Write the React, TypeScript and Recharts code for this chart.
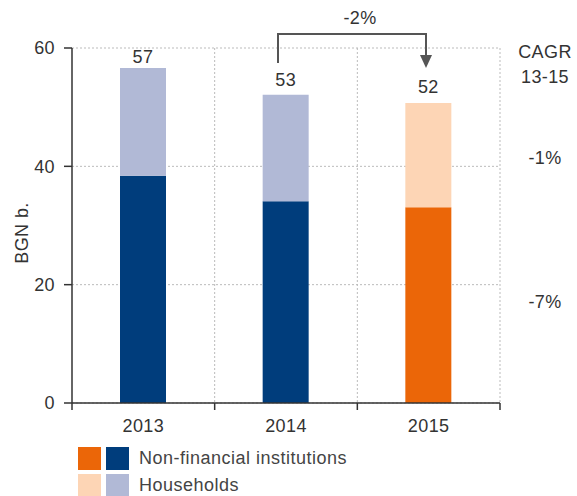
import { BarChart, Bar, XAxis, YAxis, CartesianGrid, LabelList, Legend, Cell, Customized } from "recharts"

const years = ["2013", "2014", "2015"]
const nonFinancial = [38.4, 34.1, 33.1]
const households = [18.2, 18.0, 17.6]
const totals = [57, 53, 52]
const yTicks = [0, 20, 40, 60]
const cagrTitle = ["CAGR", "13-15"]
const cagrHouseholds = "-1%"
const cagrNonFinancial = "-7%"
const growthLabel = "-2%"

const NAVY = "#003d7c"
const LAVENDER = "#b1b9d6"
const ORANGE = "#eb6608"
const PEACH = "#fdd5b5"
const TEXT = "#333"
const FONT = "'Liberation Sans', Arial, sans-serif"
const FS = 18
const LS = 0.4

const W = 577
const H = 496
const PLOT_LEFT = 72
const PLOT_RIGHT = 500
const PLOT_TOP = 48
const PLOT_BOTTOM = 403
const BAND = (PLOT_RIGHT - PLOT_LEFT) / years.length

const data = years.map((year, i) => ({
  year,
  nonFinancial: nonFinancial[i],
  households: households[i],
  total: totals[i],
}))

const labelLift = [5, 9, 10]

function TotalLabel(props: any) {
  const { x, y, width, index } = props
  return (
    <text x={x + width / 2} y={y - labelLift[index]} textAnchor="middle" fontSize={FS} letterSpacing={LS} fill={TEXT} fontFamily={FONT}>
      {totals[index]}
    </text>
  )
}

function YearTick(props: any) {
  const { x, payload, index } = props
  return (
    <g>
      <line x1={x - BAND / 2} y1={PLOT_BOTTOM} x2={x - BAND / 2} y2={PLOT_BOTTOM + 7} stroke="#333" strokeWidth={1.5} />
      {index === years.length - 1 && (
        <line x1={x + BAND / 2} y1={PLOT_BOTTOM} x2={x + BAND / 2} y2={PLOT_BOTTOM + 7} stroke="#333" strokeWidth={1.5} />
      )}
      <text x={x} y={432} textAnchor="middle" fontSize={FS} letterSpacing={LS} fill={TEXT} fontFamily={FONT}>
        {payload.value}
      </text>
    </g>
  )
}

function Annotations() {
  return (
    <g fontFamily={FONT} fill={TEXT} fontSize={FS} letterSpacing={LS}>
      <text x={22} y={233} textAnchor="middle" dominantBaseline="central" transform="rotate(-90 22 233)">
        BGN b.
      </text>
      <text x={360} y={24} textAnchor="middle">{growthLabel}</text>
      <path d="M278,63 V34 H426 V56" fill="none" stroke="#555" strokeWidth={2} />
      <polygon points="420,55 432,55 426,68" fill="#555" />
      <text x={545} y={58} textAnchor="middle">{cagrTitle[0]}</text>
      <text x={545} y={83} textAnchor="middle">{cagrTitle[1]}</text>
      <text x={545} y={164} textAnchor="middle">{cagrHouseholds}</text>
      <text x={545} y={308} textAnchor="middle">{cagrNonFinancial}</text>
    </g>
  )
}

function LegendBox() {
  const rows = [
    { colors: [ORANGE, NAVY], label: "Non-financial institutions" },
    { colors: [PEACH, LAVENDER], label: "Households" },
  ]
  return (
    <div style={{ fontFamily: FONT, fontSize: FS, letterSpacing: LS + 0.1, color: "#444" }}>
      {rows.map((r) => (
        <div key={r.label} style={{ display: "flex", alignItems: "center", height: 23, marginBottom: 4 }}>
          <span style={{ width: 23, height: 23, background: r.colors[0], marginRight: 5 }} />
          <span style={{ width: 23, height: 23, background: r.colors[1], marginRight: 10 }} />
          <span>{r.label}</span>
        </div>
      ))}
    </div>
  )
}

export default function App() {
  return (
    <div style={{ position: "absolute", left: 0, top: 0, background: "#fff" }}>
      <BarChart
        width={W}
        height={H}
        data={data}
        margin={{ top: PLOT_TOP, right: W - PLOT_RIGHT, left: PLOT_LEFT - 40, bottom: H - PLOT_BOTTOM - 30 }}
      >
        <CartesianGrid
          stroke="#bbb"
          strokeDasharray="2 2"
          verticalCoordinatesGenerator={({ offset }: any) =>
            years.map((_, i) => offset.left + ((i + 1) * offset.width) / years.length)
          }
        />
        <XAxis
          dataKey="year"
          height={30}
          tickLine={false}
          axisLine={{ stroke: "#333", strokeWidth: 1.5 }}
          tick={<YearTick />}
          interval={0}
        />
        <YAxis
          width={40}
          domain={[0, 60]}
          ticks={yTicks}
          tickSize={8}
          tickMargin={9}
          tickLine={{ stroke: "#333", strokeWidth: 1.5 }}
          axisLine={{ stroke: "#333", strokeWidth: 1.5 }}
          tick={{ fontSize: FS, fill: TEXT, fontFamily: FONT, letterSpacing: LS }}
        />
        <Legend
          layout="horizontal"
          verticalAlign="middle"
          align="center"
          wrapperStyle={{ left: 78, top: 447, width: 400, height: 50 }}
          content={<LegendBox />}
        />
        <Bar dataKey="nonFinancial" stackId="a" barSize={46} isAnimationActive={false}>
          {data.map((d, i) => (
            <Cell key={d.year} fill={i === 2 ? ORANGE : NAVY} />
          ))}
        </Bar>
        <Bar dataKey="households" stackId="a" barSize={46} isAnimationActive={false}>
          {data.map((d, i) => (
            <Cell key={d.year} fill={i === 2 ? PEACH : LAVENDER} />
          ))}
          <LabelList dataKey="total" content={<TotalLabel />} />
        </Bar>
        <Customized component={<Annotations />} />
      </BarChart>
    </div>
  )
}
